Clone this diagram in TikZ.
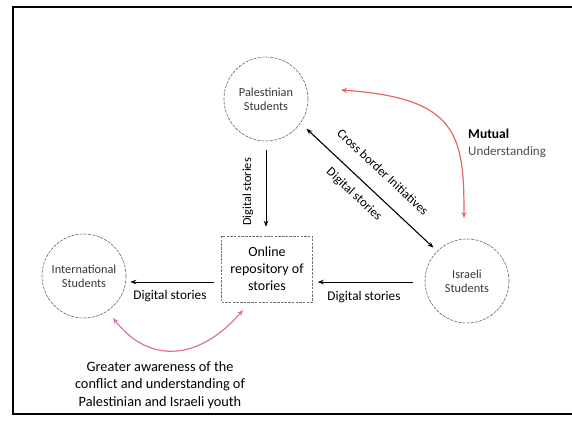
\documentclass[tikz,border=0pt]{standalone}
\usepackage{fontspec}
\setmainfont{Carlito}
\usetikzlibrary{arrows.meta}
\definecolor{redarr}{RGB}{228,104,104}
\definecolor{pinkarr}{RGB}{226,110,168}
\definecolor{circtext}{RGB}{55,55,55}
\begin{document}
\begin{tikzpicture}[x=1pt,y=-1pt,
  circ/.style={circle, draw=black!60, dash pattern=on 3pt off 1.2pt, line width=0.6pt,
    minimum size=84pt, inner sep=0pt, align=center, text=circtext,
    font=\fontsize{12.3}{14}\selectfont},
  repo/.style={rectangle, draw=black!55, dash pattern=on 2.5pt off 1.2pt, line width=0.5pt,
    minimum width=91pt, minimum height=66pt, inner sep=0pt, align=center,
    font=\fontsize{14}{17}\selectfont},
  lbl/.style={inner sep=0pt, font=\fontsize{13.3}{14}\selectfont},
  note/.style={inner sep=0pt, align=center, font=\fontsize{14.3}{17.5}\selectfont},
  arr/.style={line width=1pt, -{Stealth[length=6pt,width=4.5pt]}},
  darr/.style={line width=1.1pt, {Stealth[length=6pt,width=4.5pt]}-{Stealth[length=6pt,width=4.5pt]}},
  carr/.style={line width=1.2pt, {Stealth[length=6pt,width=5pt]}-{Stealth[length=6pt,width=5pt]}}
]
\useasboundingbox (0,0) rectangle (572,423);
% frame
\draw[line width=1.6pt] (572,7) -- (13,7) -- (13,414) -- (572,414);

% nodes
\node[circ] (P) at (266,99) {Palestinian\\Students};
\node[circ] (N) at (84,276) {International\\Students};
\node[circ] (I) at (467,281) {Israeli\\Students};
\node[repo] (R) at (267,269) {Online\\repository of\\stories};

\coordinate (hy) at (0,282);

% black connectors
\draw[arr, shorten <=9pt, shorten >=9pt] (P.south) -- (P.south |- R.north);
\draw[arr, shorten <=7pt, shorten >=4pt] (R.west |- hy) -- (N.east |- hy);
\draw[arr, shorten <=12pt, shorten >=5pt] (I.west |- hy) -- (R.east |- hy);
\draw[darr, shorten <=8pt, shorten >=5pt] (P.-35) -- (I.135);

% labels
\node[lbl, rotate=90, font=\fontsize{12.3}{14}\selectfont] (l1) at (248,192) {Digital stories};
\node[lbl] (l2) at (170,296) {Digital stories};
\node[lbl] (l3) at (364,297) {Digital stories};
\node[lbl, rotate=-43, font=\fontsize{12.8}{14}\selectfont] (l4) at (383,172) {Cross border Initiatives};
\node[lbl, rotate=-43, font=\fontsize{12.8}{14}\selectfont] (l5) at (354,194.5) {Digital stories};

% red curved arrow
\coordinate (m1) at (464,218);
\coordinate (m2) at (341,90);
\draw[carr, redarr] (m2) .. controls (458,98) and (464,135) .. (m1);
\node[note, anchor=west, font=\bfseries\fontsize{13.5}{16}\selectfont] (mu) at (468,134) {Mutual};
\node[note, anchor=west, text=black!70, font=\fontsize{13}{16}\selectfont] (un) at (468,152) {Understanding};

% pink curved arrow
\coordinate (g1) at (113,318);
\coordinate (g2) at (243,310);
\draw[carr, pinkarr] (g1) .. controls (150,365) and (200,360) .. (g2);
\node[note] (aw) at (160,385) {Greater awareness of the\\conflict and understanding of\\Palestinian and Israeli youth};
\end{tikzpicture}
\end{document}
